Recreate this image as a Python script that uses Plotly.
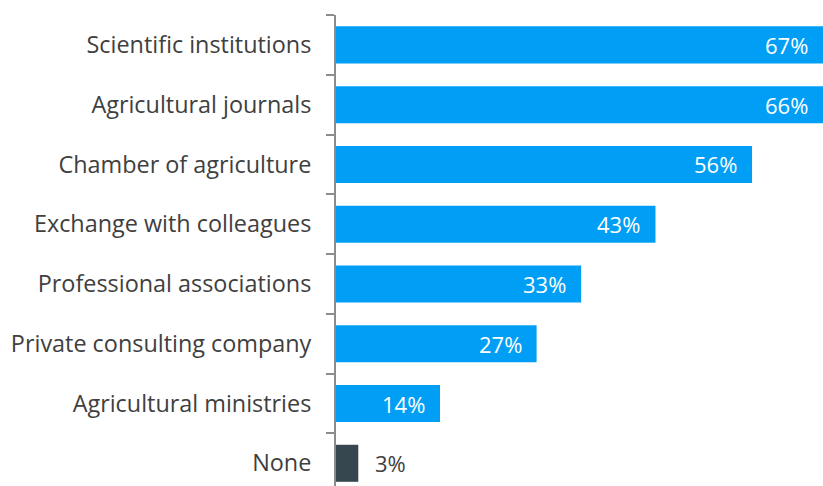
import plotly.graph_objects as go

categories = ["Scientific institutions", "Agricultural journals", "Chamber of agriculture",
              "Exchange with colleagues", "Professional associations",
              "Private consulting company", "Agricultural ministries", "None"]
values = [67, 66, 56, 43, 33, 27, 14, 3]
labels = [f"{v}%" for v in values]
colors = ["#009FF5"] * 7 + ["#37474F"]
inside = [True] * 7 + [False]

XMAX = 65.55
FONT = "Open Sans"

fig = go.Figure(go.Bar(
    y=categories, x=values, orientation="h",
    marker=dict(color=colors, line=dict(width=0)),
    cliponaxis=True, hoverinfo="x+y",
))
for cat, v, lab, ins in zip(categories, values, labels, inside):
    fig.add_annotation(
        x=min(v, XMAX), y=cat, xref="x", yref="y", text=lab, showarrow=False,
        xanchor="right" if ins else "left", xshift=-13 if ins else 15,
        font=dict(family=FONT, size=22, color="white" if ins else "#404040"),
    )
fig.update_layout(
    width=823, height=486,
    margin=dict(l=336, r=0, t=15, b=0),
    plot_bgcolor="white", paper_bgcolor="white",
    bargap=0.38, showlegend=False,
    font=dict(family=FONT, size=23.4, color="#404040"),
)
fig.update_xaxes(range=[0, XMAX], visible=False, fixedrange=True)
fig.update_yaxes(
    type="category", range=[7.38, -0.5], autorange=False,
    showline=True, linecolor="#8C8C8C", linewidth=2,
    ticks="outside", ticklen=8, tickcolor="#8C8C8C", tickwidth=2,
    tickson="boundaries", ticklabelstandoff=18, showgrid=False,
    tickfont=dict(family=FONT, size=23.4, color="#404040"),
)
fig.write_html("out.html")
